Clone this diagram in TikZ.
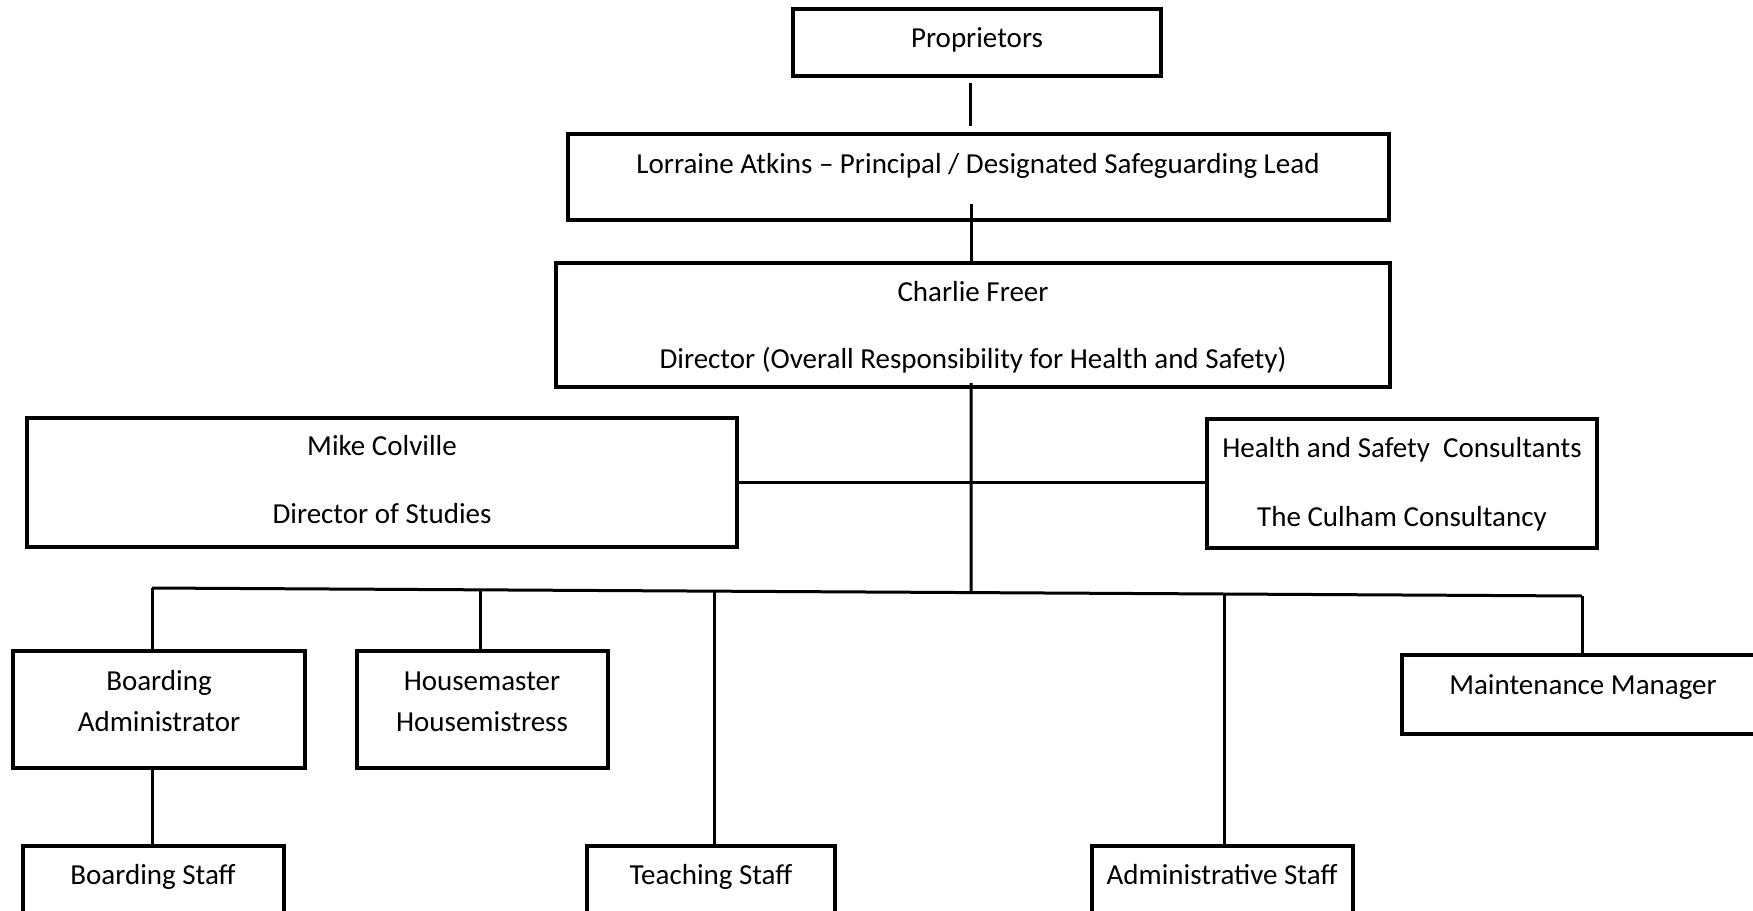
\documentclass[tikz,border=0pt]{standalone}
\usepackage{fontspec}
\setmainfont{Carlito}
\usetikzlibrary{calc}
\begin{document}
\begin{tikzpicture}[x=1pt,y=-1pt,
  box/.style={draw, line width=3.5pt, rectangle, inner sep=0pt},
  txt/.style={font=\fontsize{29}{35}\selectfont, inner sep=0pt, anchor=base, yshift=-9.5pt},
  conn/.style={line width=3pt}]
\useasboundingbox (0,0) rectangle (1753,910);
\clip (0,0) rectangle (1753,910);
% boxes
\node[box, minimum width=368pt, minimum height=67pt] (prop) at (977,42.5) {};
\node[box, minimum width=821pt, minimum height=86pt] (lor) at (978.5,177) {};
\node[box, minimum width=834pt, minimum height=124pt] (cf) at (973,325) {};
\node[box, minimum width=710pt, minimum height=129pt] (mc) at (382,482.5) {};
\node[box, minimum width=390pt, minimum height=129pt] (hs) at (1402,483.5) {};
\node[box, minimum width=292pt, minimum height=117pt] (ba) at (159,709.5) {};
\node[box, minimum width=251pt, minimum height=117pt] (hm) at (482.5,709.5) {};
\node[box, minimum width=363pt, minimum height=79pt] (mm) at (1583.5,694.5) {};
\node[box, minimum width=261pt, minimum height=100pt] (bs) at (153.5,896) {};
\node[box, minimum width=248pt, minimum height=100pt] (ts) at (711,896) {};
\node[box, minimum width=261pt, minimum height=100pt] (as) at (1222.5,896) {};
% texts
\node[txt] (tprop) at (977,38) {Proprietors};
\node[txt] (tlor) at (978,164) {Lorraine Atkins – Principal / Designated Safeguarding Lead};
\node[txt] (tcf1) at (973,292) {Charlie Freer};
\node[txt] (tcf2) at (973,359) {Director (Overall Responsibility for Health and Safety)};
\node[txt] (tmc1) at (382,446) {Mike Colville};
\node[txt] (tmc2) at (382,514) {Director of Studies};
\node[txt] (ths1) at (1402,448) {Health and Safety\ \ Consultants};
\node[txt] (ths2) at (1402,517) {The Culham Consultancy};
\node[txt] (tba1) at (159,681) {Boarding};
\node[txt] (tba2) at (159,722) {Administrator};
\node[txt] (thm1) at (482,681) {Housemaster};
\node[txt] (thm2) at (482,722) {Housemistress};
\node[txt] (tmm) at (1583,685) {Maintenance Manager};
\node[txt] (tbs) at (153,875) {Boarding Staff};
\node[txt] (tts) at (711,875) {Teaching Staff};
\node[txt] (tas) at (1222,875) {Administrative Staff};
% bus coordinates
\coordinate (busL) at (152,588);
\coordinate (busR) at (1582,596);
\coordinate (busC) at ($(busL)!{(971-152)/1430}!(busR)$);
\coordinate (bus2) at ($(busL)!{(481-152)/1430}!(busR)$);
\coordinate (bus3) at ($(busL)!{(714-152)/1430}!(busR)$);
\coordinate (bus4) at ($(busL)!{(1225-152)/1430}!(busR)$);
% connectors
\draw[conn] ($(prop.south)+(-7,5)$) -- ($(lor.north)+(-8.5,-6)$);
\draw[conn] ($(lor.south)+(-7.5,-18)$) -- ($(cf.north)+(-2,0)$);
\draw[conn] ($(cf.south)+(-2,-6)$) -- (busC);
\draw[conn] (mc.east) -- (hs.west |- mc.east);
\draw[conn] (busL) -- (busR);
\draw[conn] (busL) -- (ba.north -| busL);
\draw[conn] (bus2) -- (hm.north -| bus2);
\draw[conn] (bus3) -- (ts.north -| bus3);
\draw[conn] (bus4) -- (as.north -| bus4);
\draw[conn] (busR) -- (mm.north -| busR);
\draw[conn] (ba.south -| busL) -- (bs.north -| busL);
\end{tikzpicture}
\end{document}
